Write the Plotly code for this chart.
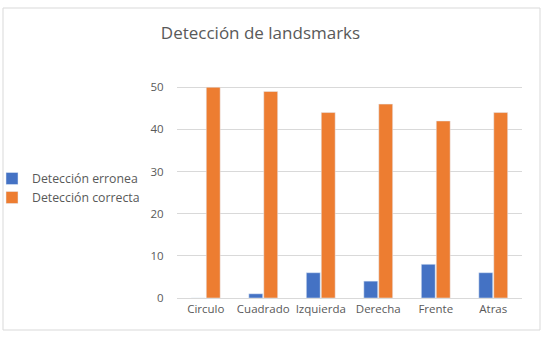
import plotly.graph_objects as go

categories = ["Circulo", "Cuadrado", "Izquierda", "Derecha", "Frente", "Atras"]
erronea = [0, 1, 6, 4, 8, 6]
correcta = [50, 49, 44, 46, 42, 44]
tick_vals = [0, 10, 20, 30, 40, 50]

W, H = 545, 337
L, R, T, B = 177, 23, 86, 39
pw, ph = W - L - R, H - T - B

def px(x):
    return (x - L) / pw

def py(y):
    return 1 - (y - T) / ph

fig = go.Figure()
fig.add_bar(x=categories, y=erronea, name="Detección erronea", marker_color="#4472C4")
fig.add_bar(x=categories, y=correcta, name="Detección correcta", marker_color="#ED7D31")

font = "Open Sans, Liberation Sans, sans-serif"
fig.update_layout(
    width=W, height=H,
    margin=dict(l=L, r=R, t=T, b=B, autoexpand=False),
    paper_bgcolor="white", plot_bgcolor="white",
    barmode="group", bargap=0.48, bargroupgap=0.07,
    font=dict(family=font, size=11, color="#595959"),
    title=dict(text="Detección de landsmarks", x=260.5 / W, xref="container", xanchor="center",
               y=1 - 33 / H, yref="container", yanchor="middle",
               font=dict(size=17, color="#595959", family=font)),
    xaxis=dict(showgrid=False, showline=True, linecolor="#D9D9D9", linewidth=1,
               ticks="", tickfont=dict(size=11.5, color="#595959"), automargin=False),
    yaxis=dict(range=[0, 50.3], tickvals=tick_vals, showgrid=True, gridcolor="#D9D9D9",
               gridwidth=1, zeroline=False, showline=False, ticks="outside",
               ticklen=10, tickcolor="rgba(0,0,0,0)", automargin=False,
               tickfont=dict(size=11.5, color="#595959")),
    legend=dict(x=px(-8), y=py(164), xanchor="left", yanchor="top",
                font=dict(size=12.3, color="#595959"), itemwidth=30,
                tracegroupgap=4, bgcolor="rgba(0,0,0,0)"),
    shapes=[dict(type="rect", xref="paper", yref="paper",
                 x0=px(3), x1=px(540), y0=py(330), y1=py(8),
                 line=dict(color="#D9D9D9", width=1), fillcolor="rgba(0,0,0,0)",
                 layer="below")],
)

fig.write_html("out.html")
